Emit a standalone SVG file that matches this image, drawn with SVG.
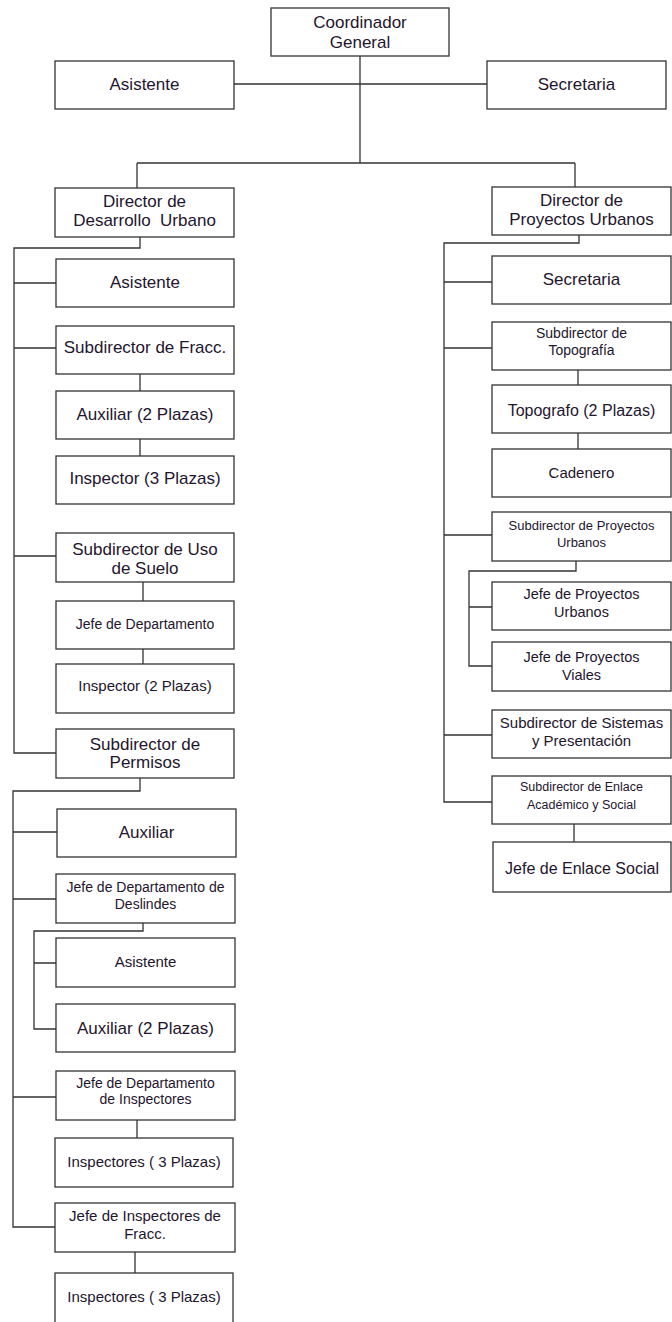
<svg xmlns="http://www.w3.org/2000/svg" width="672" height="1322" viewBox="0 0 672 1322">
<style>
.b{fill:#fff;stroke:#333;stroke-width:1.3}
.c{fill:none;stroke:#333;stroke-width:1.3}
text{font-family:"Liberation Sans",Arial,sans-serif;fill:#24152e;text-anchor:middle}
.f17{font-size:17px}.f16{font-size:16px}.f15{font-size:15px}.f145{font-size:14.5px}.f14{font-size:14px}.f13{font-size:13px}.f125{font-size:12.5px}
</style>
<rect width="672" height="1322" fill="#fff"/>
<g id="connectors" class="c">
<path d="M360,56 V163 M233,84 H487 M137,163 H575 M137,163 V188 M575,163 V187"/>
<path d="M140,237 V248 H14 V753 H56 M14,283 H56 M14,348 H56 M14,556 H56"/>
<path d="M140,374 V391 M140,439 V456 M143,582 V601 M143,649 V664"/>
<path d="M140,778 V791 H13 V1227 H55 M13,832 H57 M13,899 H56 M13,1097 H56"/>
<path d="M143,923 V931 H34 V1029 H56 M34,963 H56"/>
<path d="M137,1120 V1138 M135,1252 V1273"/>
<path d="M579,235 V243 H444 V802 H492 M444,282 H492 M444,348 H492 M444,535 H492 M444,735 H492"/>
<path d="M578,370 V385 M578,433 V449"/>
<path d="M576,561 V571 H469 V666 H492 M469,607 H492"/>
<path d="M574,824 V842"/>
</g>
<g id="coordinador"><rect class="b" x="271" y="8" width="178" height="48"/><text class="f17" x="360" y="28">Coordinador</text><text class="f17" x="360" y="48">General</text></g>
<g id="asistente-top"><rect class="b" x="55" y="61" width="179" height="48"/><text class="f17" x="144.5" y="90">Asistente</text></g>
<g id="secretaria-top"><rect class="b" x="487" y="61" width="179" height="48"/><text class="f17" x="576.5" y="90">Secretaria</text></g>
<g id="dir-du"><rect class="b" x="55" y="188" width="179" height="49"/><text class="f17" x="144.5" y="207">Director de</text><text class="f17" x="144.5" y="226" xml:space="preserve">Desarrollo  Urbano</text></g>
<g id="dir-pu"><rect class="b" x="492" y="187" width="179" height="48"/><text class="f17" x="581.5" y="206">Director de</text><text class="f17" x="581.5" y="225">Proyectos Urbanos</text></g>

<g id="asistente-du"><rect class="b" x="56" y="259" width="178" height="48"/><text class="f17" x="145" y="288">Asistente</text></g>
<g id="sub-fracc"><rect class="b" x="56" y="326" width="178" height="48"/><text class="f17" x="145" y="353">Subdirector de Fracc.</text></g>
<g id="aux-fracc"><rect class="b" x="56" y="391" width="178" height="48"/><text class="f17" x="145" y="420">Auxiliar (2 Plazas)</text></g>
<g id="insp-fracc"><rect class="b" x="56" y="456" width="178" height="48"/><text class="f17" x="145" y="484">Inspector (3 Plazas)</text></g>
<g id="sub-uso"><rect class="b" x="56" y="533" width="178" height="49"/><text class="f17" x="145" y="555">Subdirector de Uso</text><text class="f17" x="145" y="574">de Suelo</text></g>
<g id="jefe-dep"><rect class="b" x="56" y="601" width="178" height="48"/><text class="f14" x="145" y="629">Jefe de Departamento</text></g>
<g id="insp-uso"><rect class="b" x="56" y="664" width="178" height="49"/><text class="f15" x="145" y="691">Inspector (2 Plazas)</text></g>
<g id="sub-perm"><rect class="b" x="56" y="729" width="178" height="49"/><text class="f17" x="145" y="750">Subdirector de</text><text class="f17" x="145" y="768">Permisos</text></g>
<g id="aux-perm"><rect class="b" x="57" y="809" width="179" height="48"/><text class="f17" x="146.5" y="838">Auxiliar</text></g>
<g id="jefe-desl"><rect class="b" x="56" y="874" width="179" height="49"/><text class="f14" x="145.5" y="892">Jefe de Departamento de</text><text class="f14" x="145.5" y="909">Deslindes</text></g>
<g id="asistente-desl"><rect class="b" x="56" y="938" width="179" height="49"/><text class="f15" x="145.5" y="967">Asistente</text></g>
<g id="aux-desl"><rect class="b" x="56" y="1004" width="179" height="48"/><text class="f17" x="145.5" y="1034">Auxiliar (2 Plazas)</text></g>
<g id="jefe-insp"><rect class="b" x="56" y="1071" width="179" height="49"/><text class="f14" x="145.5" y="1088">Jefe de Departamento</text><text class="f14" x="145.5" y="1104">de Inspectores</text></g>
<g id="insp-a"><rect class="b" x="55" y="1138" width="178" height="49"/><text class="f15" x="144" y="1167">Inspectores ( 3 Plazas)</text></g>
<g id="jefe-insp-fracc"><rect class="b" x="55" y="1203" width="180" height="49"/><text class="f15" x="145" y="1221">Jefe de Inspectores de</text><text class="f15" x="145" y="1239">Fracc.</text></g>
<g id="insp-b"><rect class="b" x="55" y="1273" width="178" height="52"/><text class="f15" x="144" y="1302">Inspectores ( 3 Plazas)</text></g>

<g id="secretaria-pu"><rect class="b" x="492" y="256" width="179" height="48"/><text class="f17" x="581.5" y="285">Secretaria</text></g>
<g id="sub-topo"><rect class="b" x="492" y="322" width="179" height="48"/><text class="f14" x="581.5" y="338">Subdirector de</text><text class="f14" x="581.5" y="355">Topografía</text></g>
<g id="topografo"><rect class="b" x="492" y="385" width="179" height="48"/><text class="f16" x="581.5" y="416">Topografo (2 Plazas)</text></g>
<g id="cadenero"><rect class="b" x="492" y="449" width="179" height="48"/><text class="f15" x="581.5" y="478">Cadenero</text></g>
<g id="sub-pu"><rect class="b" x="492" y="512" width="179" height="49"/><text class="f13" x="581.5" y="530">Subdirector de Proyectos</text><text class="f13" x="581.5" y="547">Urbanos</text></g>
<g id="jefe-pu"><rect class="b" x="492" y="582" width="179" height="48"/><text class="f145" x="581.5" y="599">Jefe de Proyectos</text><text class="f145" x="581.5" y="617">Urbanos</text></g>
<g id="jefe-pv"><rect class="b" x="492" y="642" width="179" height="49"/><text class="f145" x="581.5" y="662">Jefe de Proyectos</text><text class="f145" x="581.5" y="680">Viales</text></g>
<g id="sub-sis"><rect class="b" x="492" y="710" width="179" height="48"/><text class="f15" x="581.5" y="728">Subdirector de Sistemas</text><text class="f15" x="581.5" y="746">y Presentación</text></g>
<g id="sub-enl"><rect class="b" x="492" y="776" width="179" height="48"/><text class="f125" x="581.5" y="791">Subdirector de Enlace</text><text class="f125" x="581.5" y="809">Académico y Social</text></g>
<g id="jefe-enl"><rect class="b" x="493" y="842" width="178" height="50"/><text class="f16" x="582" y="874">Jefe de Enlace Social</text></g>
</svg>
